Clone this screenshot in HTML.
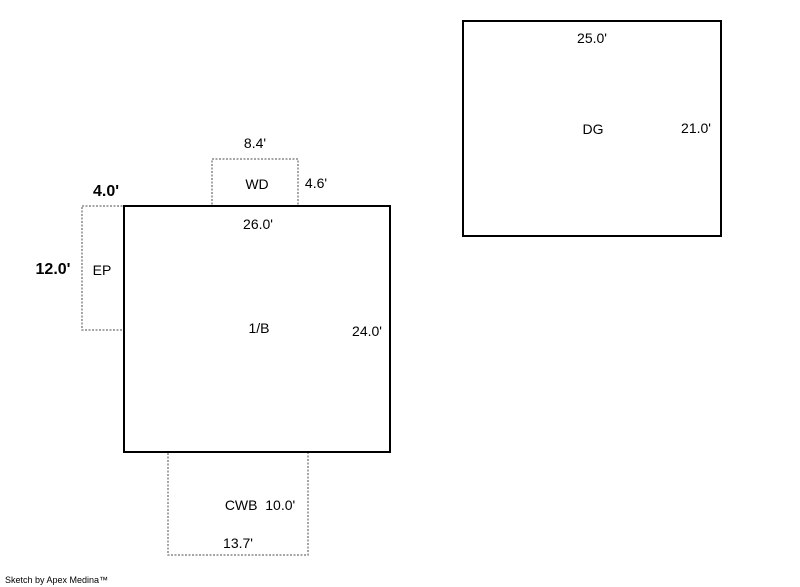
<!DOCTYPE html>
<html><head><style>
html,body{margin:0;padding:0;background:#fff;}
svg{display:block}
text{font-family:"Liberation Sans",Arial,sans-serif;font-size:14px;fill:#000;}
</style></head><body>
<svg width="800" height="587" xmlns="http://www.w3.org/2000/svg">
<g fill="none" stroke="#888" stroke-width="1.5" stroke-dasharray="2,1.5">
<rect x="212" y="159" width="86" height="47"/>
<rect x="82" y="206" width="42" height="124"/>
<rect x="168" y="452" width="140" height="103"/>
</g>
<g fill="none" stroke="#000" stroke-width="2">
<rect x="124" y="206" width="266" height="246"/>
<rect x="463" y="21" width="258" height="215"/>
</g>
<g text-anchor="middle">
<text x="255" y="148">8.4'</text>
<text x="257" y="189">WD</text>
<text x="316" y="188">4.6'</text>
<text x="106" y="196" style="font-size:16px;font-weight:bold">4.0'</text>
<text x="53" y="274" style="font-size:16px;font-weight:bold">12.0'</text>
<text x="102" y="275">EP</text>
<text x="258" y="229">26.0'</text>
<text x="259" y="333">1/B</text>
<text x="367" y="336">24.0'</text>
<text x="260" y="510">CWB&#160;&#160;10.0'</text>
<text x="238" y="548">13.7'</text>
<text x="592" y="43">25.0'</text>
<text x="593" y="134">DG</text>
<text x="696" y="133">21.0'</text>
</g>
<text x="5" y="583" style="font-size:9px">Sketch by Apex Medina™</text>
</svg>
</body></html>
